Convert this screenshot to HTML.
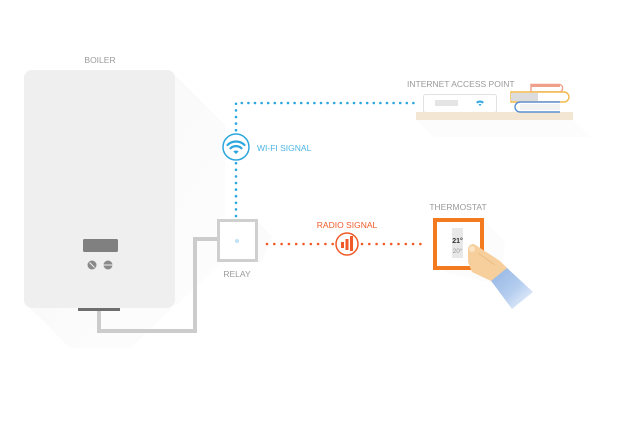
<!DOCTYPE html>
<html><head><meta charset="utf-8"><style>
html,body{margin:0;padding:0;background:#fff;}
svg{display:block;}
text{font-family:"Liberation Sans",sans-serif;}
</style></head><body>
<svg width="620" height="448" viewBox="0 0 620 448" xmlns="http://www.w3.org/2000/svg">
<defs>
<linearGradient id="sh" x1="0" y1="0" x2="1" y2="1">
<stop offset="0" stop-color="#f7f7f7"/><stop offset="1" stop-color="#fefefe"/>
</linearGradient>
<linearGradient id="sl" x1="0" y1="0" x2="1" y2="1">
<stop offset="0" stop-color="#8fb2e2"/><stop offset="0.55" stop-color="#b4cdef"/><stop offset="1" stop-color="#f6f9fe"/>
</linearGradient>
</defs>
<!-- boiler shadow -->
<polygon points="175,75 225,125 225,260 130,348 70,348 30,308 175,308" fill="url(#sh)"/>
<!-- relay shadow -->
<polygon points="258,222 272,236 262,262 240,262" fill="#fbfbfb"/>
<!-- pipe -->
<polyline points="99,310 99,331 195,331 195,239 218,239" fill="none" stroke="#cccccc" stroke-width="4"/>
<!-- boiler -->
<rect x="24" y="70" width="151" height="238" rx="8" fill="#efefef"/>
<rect x="83" y="239" width="35" height="13" rx="1.5" fill="#808080"/>
<circle cx="92" cy="265" r="4.5" fill="#8a8a8a"/>
<line x1="89.5" y1="262.5" x2="94.5" y2="267.5" stroke="#efefef" stroke-width="1"/>
<circle cx="108" cy="265" r="4.5" fill="#8a8a8a"/>
<line x1="103.5" y1="265" x2="112.5" y2="265" stroke="#efefef" stroke-width="1"/>
<rect x="78" y="308" width="42" height="3" fill="#6e6e6e"/>
<text x="100" y="63" font-size="8.5" fill="#9a9a9a" text-anchor="middle">BOILER</text>
<!-- wifi dotted -->
<polyline points="236,216 236,103 417,103" fill="none" stroke="#2ba6df" stroke-width="2.6" stroke-linecap="round" stroke-dasharray="0 6.6"/>
<circle cx="236" cy="147" r="13" fill="#fff" stroke="#2ba6df" stroke-width="1.5"/>
<g fill="none" stroke="#2ba6df" stroke-width="2.2" stroke-linecap="round">
<path d="M227.5,145 A12,12 0 0 1 244.5,145"/>
<path d="M230.5,148.3 A8,8 0 0 1 241.5,148.3"/>
</g>
<path d="M233.3,151.5 A4,4 0 0 1 238.7,151.5 L236,154 Z" fill="#2ba6df"/>
<text x="257" y="151" font-size="8.5" fill="#4db5e6">WI-FI SIGNAL</text>
<!-- internet access point -->
<text x="407" y="87" font-size="8.5" fill="#9a9a9a">INTERNET ACCESS POINT</text>
<polygon points="416,120 573,120 590,137 433,137" fill="#fcfcfc"/>
<rect x="423.5" y="94.5" width="73" height="18" rx="2" fill="#fff" stroke="#e2e2e2" stroke-width="1"/>
<rect x="435" y="100" width="23" height="6" fill="#e4e4e4"/>
<path d="M476,102 A6,6 0 0 1 484,102 L482.5,103.5 A4,4 0 0 0 477.5,103.5 Z" fill="#2ba6df"/>
<path d="M478.5,104.5 A2.5,2.5 0 0 1 481.5,104.5 L480,106 Z" fill="#2ba6df"/>
<rect x="430" y="112" width="5" height="2" fill="#777"/>
<rect x="484" y="112" width="5" height="2" fill="#777"/>
<rect x="416" y="112" width="157" height="8" fill="#f3e7d3"/>
<!-- books -->
<path d="M531,84.5 H560 A4,4 0 0 1 560,92 H531 Z" fill="#fff" stroke="#f0a08a" stroke-width="1.4"/>
<rect x="531" y="84" width="29" height="3" fill="#f0a08a"/>
<path d="M511,92 H564 A5,5 0 0 1 564,102 H511 Z" fill="#fff" stroke="#f2b84b" stroke-width="1.4"/>
<rect x="511" y="93" width="27" height="8" fill="#dcdcdc"/>
<path d="M560,102 H520 A5,5 0 0 0 520,112 H560" fill="#fff" stroke="#5b8fd1" stroke-width="1.4"/>
<rect x="520" y="104" width="40" height="6" fill="#f2f2f2"/>
<!-- relay -->
<rect x="218.5" y="220.5" width="38" height="40" fill="#fff" stroke="#cfcfcf" stroke-width="3"/>
<circle cx="237" cy="241" r="2" fill="#bfe2f5"/>
<text x="237" y="277" font-size="8.5" fill="#9a9a9a" text-anchor="middle">RELAY</text>
<!-- radio dotted -->
<line x1="267" y1="244" x2="334" y2="244" stroke="#f05a28" stroke-width="2.6" stroke-linecap="round" stroke-dasharray="0 7.3"/>
<line x1="362" y1="244" x2="425" y2="244" stroke="#f05a28" stroke-width="2.6" stroke-linecap="round" stroke-dasharray="0 7.3"/>
<circle cx="347" cy="244" r="11" fill="#fff" stroke="#f05a28" stroke-width="1.5"/>
<rect x="341" y="242" width="3" height="6" fill="#f05a28"/>
<rect x="345.5" y="239" width="3" height="11" fill="#f05a28"/>
<rect x="350" y="236" width="3" height="15" fill="#f05a28"/>
<text x="347" y="228" font-size="8.5" fill="#f05a28" text-anchor="middle">RADIO SIGNAL</text>
<!-- thermostat -->
<text x="458" y="210" font-size="8.5" fill="#9a9a9a" text-anchor="middle">THERMOSTAT</text>
<polygon points="484,220 505,241 500,285 445,272" fill="#fcfcfc"/>
<rect x="435" y="220" width="47" height="48" fill="#fff" stroke="#f47a20" stroke-width="4"/>
<rect x="452" y="228" width="11" height="30" fill="#e8e8e8"/>
<text x="457.5" y="243" font-size="7" font-weight="bold" fill="#333" text-anchor="middle">21°</text>
<text x="457.5" y="253" font-size="6.5" fill="#999" text-anchor="middle">20°</text>
<!-- hand -->
<polygon points="489,278 506,267 533,292 512,309" fill="url(#sl)"/>
<path d="M468,250 Q468,244 474,244 L500,261 L507,268 L491,281 L472,272 L468,262 Z" fill="#f6cf9c"/>
<path d="M478,253 L495,265" stroke="#e9b57a" stroke-width="0.7" fill="none"/>
<circle cx="472" cy="249" r="3" fill="#fbe3c3"/>
</svg>
</body></html>
